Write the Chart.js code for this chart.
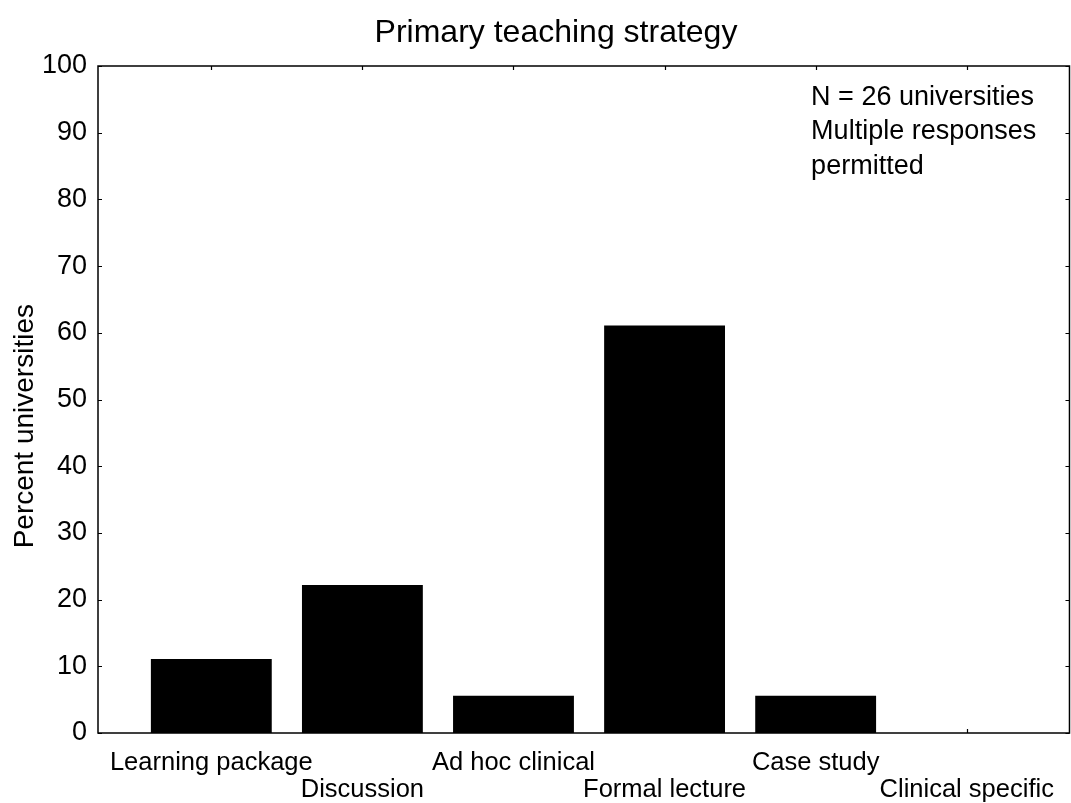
<!DOCTYPE html>
<html>
<head>
<meta charset="utf-8">
<script src="https://cdn.jsdelivr.net/npm/chart.js@4/dist/chart.umd.min.js"></script>
<style>
  html, body { margin: 0; padding: 0; background: #fff; }
  #wrap { width: 1071px; height: 803px; }
</style>
</head>
<body>
<div id="wrap"><canvas id="strategyChart" width="1071" height="803"></canvas></div>
<script>
var categories = ['Learning package', 'Discussion', 'Ad hoc clinical', 'Formal lecture', 'Case study', 'Clinical specific'];
var percents = [11.1, 22.2, 5.6, 61.1, 5.6, 0];
var yTicks = [0, 10, 20, 30, 40, 50, 60, 70, 80, 90, 100];
var noteLines = ['N = 26 universities', 'Multiple responses', 'permitted'];
var chartTitle = 'Primary teaching strategy';
var yTitle = 'Percent universities';

var fontFamily = '"Liberation Sans", Arial, Helvetica, sans-serif';

// border box, inward tick marks on all four sides, and the texts
var frameTicks = {
    id: 'frameTicks',
    afterDatasetsDraw: function (chart) {
        var c = chart.ctx, a = chart.chartArea;
        var xs = chart.scales.x, ys = chart.scales.y;
        var len = 4;
        c.save();
        c.strokeStyle = '#000';
        c.lineWidth = 1.5;
        c.strokeRect(a.left, a.top, a.right - a.left, a.bottom - a.top);
        c.lineWidth = 1.2;
        c.beginPath();
        ys.ticks.forEach(function (t) {
            var y = Math.round(ys.getPixelForValue(t.value)) + 0.5;
            c.moveTo(a.left, y); c.lineTo(a.left + len, y);
            c.moveTo(a.right, y); c.lineTo(a.right - len, y);
        });
        xs.ticks.forEach(function (t) {
            var x = Math.round(xs.getPixelForValue(t.value)) + 0.5;
            c.moveTo(x, a.bottom); c.lineTo(x, a.bottom - len);
            c.moveTo(x, a.top); c.lineTo(x, a.top + len);
        });
        c.stroke();

        c.fillStyle = '#000';
        c.textBaseline = 'middle';

        // title
        c.font = '32px ' + fontFamily;
        c.textAlign = 'center';
        c.fillText(chartTitle, 556, 33);

        // y axis title
        c.save();
        c.font = '28px ' + fontFamily;
        c.translate(25, ys.getPixelForValue(46));
        c.rotate(-Math.PI / 2);
        c.fillText(yTitle, 0, 0);
        c.restore();

        // note text in the upper right
        c.font = '27px ' + fontFamily;
        c.textAlign = 'left';
        var x0 = xs.getPixelForValue(3.97);
        var yVals = [95.3, 90.1, 84.9];
        noteLines.forEach(function (line, i) {
            c.fillText(line, x0, ys.getPixelForValue(yVals[i]));
        });
        c.restore();
    }
};

var config = {
    type: 'bar',
    data: {
        datasets: [{
            label: yTitle,
            data: percents.map(function (v, i) { return { x: i, y: v }; }),
            backgroundColor: '#000',
            borderWidth: 0,
            barPercentage: 0.8,
            categoryPercentage: 1.0
        }]
    },
    options: {
        responsive: false,
        animation: false,
        layout: { padding: { left: 0, right: 1, top: 66, bottom: 0 } },
        plugins: {
            legend: { display: false },
            tooltip: { enabled: false },
            title: { display: false }
        },
        scales: {
            x: {
                type: 'linear',
                offset: false,
                min: -0.75,
                max: 5.68,
                afterBuildTicks: function (scale) {
                    scale.ticks = categories.map(function (c, i) { return { value: i }; });
                },
                afterFit: function (scale) { scale.height = 70; },
                grid: { display: false, drawTicks: false, offset: false },
                border: { display: false },
                ticks: {
                    autoSkip: false,
                    maxRotation: 0,
                    padding: 17,
                    color: '#000',
                    font: { family: fontFamily, size: 25.5, lineHeight: 1.05 },
                    callback: function (value) {
                        var lbl = categories[value];
                        return value % 2 === 1 ? ['', lbl] : lbl;
                    }
                }
            },
            y: {
                min: 0,
                max: 100,
                afterBuildTicks: function (scale) {
                    scale.ticks = yTicks.map(function (v) { return { value: v }; });
                },
                afterFit: function (scale) { scale.width = 98; },
                grid: { display: false, drawTicks: false },
                border: { display: false },
                ticks: {
                    padding: 11,
                    color: '#000',
                    font: { family: fontFamily, size: 27 }
                }
            }
        }
    },
    plugins: [frameTicks]
};

var ctx = document.getElementById('strategyChart').getContext('2d');
window.strategyChart = new Chart(ctx, config);
</script>
</body>
</html>
